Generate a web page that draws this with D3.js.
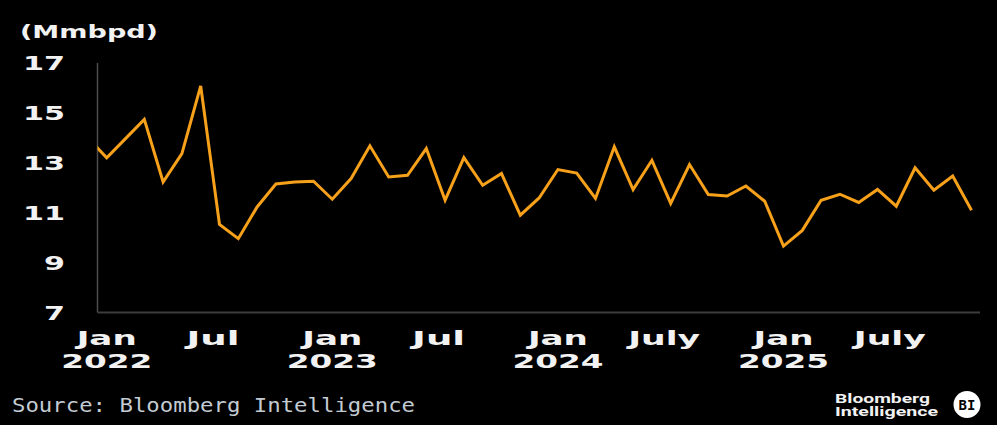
<!DOCTYPE html>
<html>
<head>
<meta charset="utf-8">
<script src="https://cdn.jsdelivr.net/npm/d3@7"></script>
<style>
  html, body { margin: 0; padding: 0; background: #000; }
  svg { display: block; }
</style>
</head>
<body>
<div id="chart"></div>
<script>
// monthly output, first value is Dec 2021 (clipped by the axis), last is Nov 2025
var firstMonth = new Date(2021, 11, 1);
var production = [
  14.0,
  13.2, 13.97, 14.74, 12.23, 13.37, 16.08, 10.53, 9.96, 11.23, 12.15, 12.23, 12.26,
  11.54, 12.37, 13.68, 12.43, 12.50, 13.57, 11.50, 13.21, 12.10, 12.57, 10.90, 11.59,
  12.73, 12.59, 11.57, 13.64, 11.93, 13.10, 11.37, 12.93, 11.73, 11.67, 12.07, 11.46,
  9.66, 10.29, 11.50, 11.74, 11.41, 11.93, 11.26, 12.80, 11.90, 12.47, 11.10
];
var yTicks = [7, 9, 11, 13, 15, 17];
// x tick labels: month offset from Jan 2022, month name, year line
var tickOffsets = [0, 6, 12, 18, 24, 30, 36, 42];
var tickMonths = ["Jan", "Jul", "Jan", "Jul", "Jan", "July", "Jan", "July"];
var tickYears = ["2022", "", "2023", "", "2024", "", "2025", ""];

var unitLabel = "(Mmbpd)";
var sourceText = "Source: Bloomberg Intelligence";

var W = 997, H = 425;
var plot = {left: 97.5, right: 980, top: 63, bottom: 312.5};

var data = production.map(function(v, i) {
  return {date: d3.timeMonth.offset(firstMonth, i), idx: i - 1, value: v};
});

// index 0 = Jan 2022, 46 = Nov 2025
var x = d3.scaleLinear().domain([0, 46]).range([106.7, 971.5]);
var y = d3.scaleLinear().domain([7, 17]).range([plot.bottom, plot.top]);

var svg = d3.select("#chart").append("svg")
    .attr("width", W)
    .attr("height", H)
    .style("background", "#000");

svg.append("defs").append("clipPath")
    .attr("id", "plotclip")
  .append("rect")
    .attr("x", plot.left)
    .attr("y", 0)
    .attr("width", plot.right - plot.left)
    .attr("height", H);

// unit label
svg.append("text")
    .attr("x", 20)
    .attr("y", 38)
    .attr("textLength", 138)
    .attr("lengthAdjust", "spacingAndGlyphs")
    .style("font-family", "DejaVu Sans")
    .style("font-weight", "bold")
    .style("font-size", "18px")
    .style("fill", "#f2f2f2")
    .text(unitLabel);

// y axis labels
var yAxis = svg.append("g")
    .attr("transform", "translate(" + plot.left + ",0)")
    .call(d3.axisLeft(y).tickValues(yTicks).tickSize(0).tickPadding(32.5));
yAxis.select(".domain").remove();
yAxis.selectAll("text")
    .attr("textLength", function(d) { return String(d).length * 21; })
    .attr("lengthAdjust", "spacingAndGlyphs")
    .attr("dy", "0.36em")
    .style("font-family", "DejaVu Sans")
    .style("font-weight", "bold")
    .style("font-size", "19px")
    .style("fill", "#f2f2f2");

// axis lines
svg.append("line")
    .attr("x1", plot.left).attr("x2", plot.left)
    .attr("y1", plot.top).attr("y2", plot.bottom)
    .style("stroke", "#4d4d4d")
    .style("stroke-width", 1.5);
svg.append("line")
    .attr("x1", plot.left).attr("x2", plot.right)
    .attr("y1", plot.bottom).attr("y2", plot.bottom)
    .style("stroke", "#3c3c3c")
    .style("stroke-width", 2);

// x labels
var xl = svg.append("g");
tickOffsets.forEach(function(t, i) {
  var m = tickMonths[i];
  var shift = (m.indexOf("Jul") === 0) ? -6.5 : 0;
  var w = m === "Jan" ? 60 : (m === "Jul" ? 53 : 72);
  xl.append("text")
      .attr("x", x(t) + shift)
      .attr("y", 345)
      .attr("text-anchor", "middle")
      .attr("textLength", w)
      .attr("lengthAdjust", "spacingAndGlyphs")
      .style("font-family", "DejaVu Sans")
      .style("font-weight", "bold")
      .style("font-size", "19px")
      .style("fill", "#f2f2f2")
      .text(m);
  if (tickYears[i]) {
    xl.append("text")
        .attr("x", x(t))
        .attr("y", 368)
        .attr("text-anchor", "middle")
        .attr("textLength", 91)
        .attr("lengthAdjust", "spacingAndGlyphs")
        .style("font-family", "DejaVu Sans")
        .style("font-weight", "bold")
        .style("font-size", "20px")
        .style("fill", "#f2f2f2")
        .text(tickYears[i]);
  }
});

// the line
var line = d3.line()
    .x(function(d) { return x(d.idx); })
    .y(function(d) { return y(d.value); });

svg.append("path")
    .datum(data)
    .attr("clip-path", "url(#plotclip)")
    .attr("d", line)
    .style("fill", "none")
    .style("stroke", "#f7a11a")
    .style("stroke-width", 3)
    .style("stroke-linejoin", "miter");

// source
svg.append("text")
    .attr("x", 12)
    .attr("y", 411.5)
    .attr("textLength", 403)
    .attr("lengthAdjust", "spacingAndGlyphs")
    .style("font-family", "DejaVu Sans Mono")
    .style("font-size", "19px")
    .style("fill", "#c3cbd3")
    .text(sourceText);

// logo
var logo = svg.append("g");
logo.append("text")
    .attr("x", 835).attr("y", 402.5)
    .attr("textLength", 95)
    .attr("lengthAdjust", "spacingAndGlyphs")
    .style("font-family", "Roboto")
    .style("font-weight", "bold")
    .style("font-size", "13px")
    .style("fill", "#f2f2f2")
    .text("Bloomberg");
logo.append("text")
    .attr("x", 835).attr("y", 416)
    .attr("textLength", 103)
    .attr("lengthAdjust", "spacingAndGlyphs")
    .style("font-family", "Roboto")
    .style("font-weight", "bold")
    .style("font-size", "13px")
    .style("fill", "#f2f2f2")
    .text("Intelligence");
logo.append("circle")
    .attr("cx", 967).attr("cy", 404.5)
    .attr("r", 13.5)
    .style("fill", "#fff");
logo.append("text")
    .attr("x", 967).attr("y", 409.5)
    .attr("text-anchor", "middle")
    .style("font-family", "DejaVu Sans Mono")
    .style("font-weight", "bold")
    .style("font-size", "14px")
    .style("fill", "#000")
    .text("BI");
</script>
</body>
</html>
